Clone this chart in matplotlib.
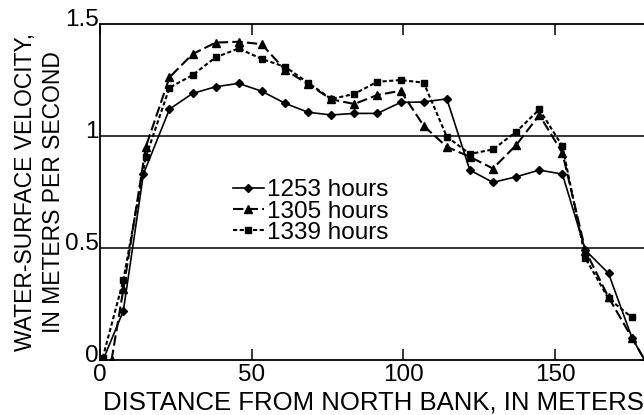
import matplotlib
matplotlib.use("Agg")
import matplotlib.pyplot as plt
import matplotlib.transforms as mtransforms

plt.rcParams['font.family'] = ['Liberation Sans', 'DejaVu Sans']

x_1253 = [1.0, 7.7, 14.3, 22.9, 30.5, 38.1, 45.7, 53.3, 61.0, 68.6, 76.2, 83.8,
          91.4, 99.1, 106.7, 114.3, 121.9, 129.5, 137.2, 144.8, 152.4, 160.0,
          167.6, 175.3, 179.5]
v_1253 = [0.0, 0.22, 0.83, 1.12, 1.19, 1.22, 1.235, 1.20, 1.146, 1.106, 1.094,
          1.101, 1.101, 1.15, 1.152, 1.166, 0.848, 0.793, 0.818, 0.848, 0.83,
          0.49, 0.387, 0.10, 0.0]

x_1305 = [3.8, 7.7, 15.1, 22.9, 30.5, 38.1, 45.7, 53.3, 61.0, 68.6, 76.2, 83.8,
          91.4, 99.1, 106.7, 114.3, 121.9, 129.5, 137.2, 144.8, 152.4, 160.0,
          167.6, 175.3, 179.5]
v_1305 = [0.0, 0.316, 0.952, 1.262, 1.366, 1.417, 1.421, 1.41, 1.295, 1.232,
          1.164, 1.143, 1.183, 1.202, 1.045, 0.952, 0.907, 0.855, 0.96, 1.094,
          0.925, 0.488, 0.28, 0.10, 0.0]

x_1339 = [0.9, 7.7, 15.1, 22.9, 30.5, 38.1, 45.7, 53.3, 61.0, 68.6, 76.2, 83.8,
          91.4, 99.1, 106.7, 114.3, 121.9, 129.5, 137.2, 144.8, 152.4, 160.0,
          167.6, 175.3]
v_1339 = [0.01, 0.357, 0.907, 1.216, 1.272, 1.351, 1.391, 1.344, 1.309, 1.238,
          1.165, 1.188, 1.242, 1.25, 1.238, 0.997, 0.92, 0.94, 1.019, 1.119,
          0.955, 0.454, 0.275, 0.19]

labels = ['1253 hours', '1305 hours', '1339 hours']
x_ticks = [0, 50, 100, 150]
y_ticks = [0, 0.5, 1, 1.5]
y_tick_labels = ['0', '0.5', '1', '1.5']

FS = 17.5

fig = plt.figure(figsize=(6.44, 4.15), dpi=100)
ax = fig.add_axes([0.1553, 0.1325, 0.848, 0.8096])

ax.axhline(0.5, color='black', lw=1.1, zorder=1)
ax.axhline(1.0, color='black', lw=1.1, zorder=1)

ax.plot(x_1253, v_1253, color='black', lw=1.2, marker='D', ms=4.5, label=labels[0],
        zorder=3)
ax.plot(x_1305, v_1305, color='black', lw=1.5, marker='^', ms=5.5, dashes=(5, 2),
        label=labels[1], zorder=3)
ax.plot(x_1339, v_1339, color='black', lw=1.5, marker='s', ms=5, dashes=(2, 1.2),
        label=labels[2], zorder=3)

ax.set_xlim(0, 180)
ax.set_ylim(0, 1.5)
ax.set_xticks(x_ticks)
ax.set_yticks(y_ticks)
ax.set_yticklabels(y_tick_labels)
ax.spines['right'].set_visible(False)
for s in ['left', 'top', 'bottom']:
    ax.spines[s].set_linewidth(1.3)
ax.tick_params(axis='x', direction='in', top=True, bottom=True, length=8,
               width=1.1, labelsize=FS, pad=3)
ax.tick_params(axis='y', direction='in', left=True, length=0, labelsize=FS, pad=1)
offset = mtransforms.ScaledTranslation(0, 4 / 100, fig.dpi_scale_trans)
for lbl in ax.get_yticklabels():
    lbl.set_verticalalignment('center')
    lbl.set_transform(lbl.get_transform() + offset)

ax.set_xlabel('DISTANCE FROM NORTH BANK, IN METERS', fontsize=18.5, labelpad=3)
ax.set_ylabel('WATER-SURFACE VELOCITY,\nIN METERS PER SECOND', fontsize=16.5,
              labelpad=0, linespacing=1.25)

leg = ax.legend(loc='upper left', bbox_to_anchor=(0.225, 0.567), frameon=False,
                fontsize=FS, handlelength=1.3, handletextpad=0.1,
                labelspacing=-0.03, borderaxespad=0)

fig.savefig('out.png', dpi=100)
